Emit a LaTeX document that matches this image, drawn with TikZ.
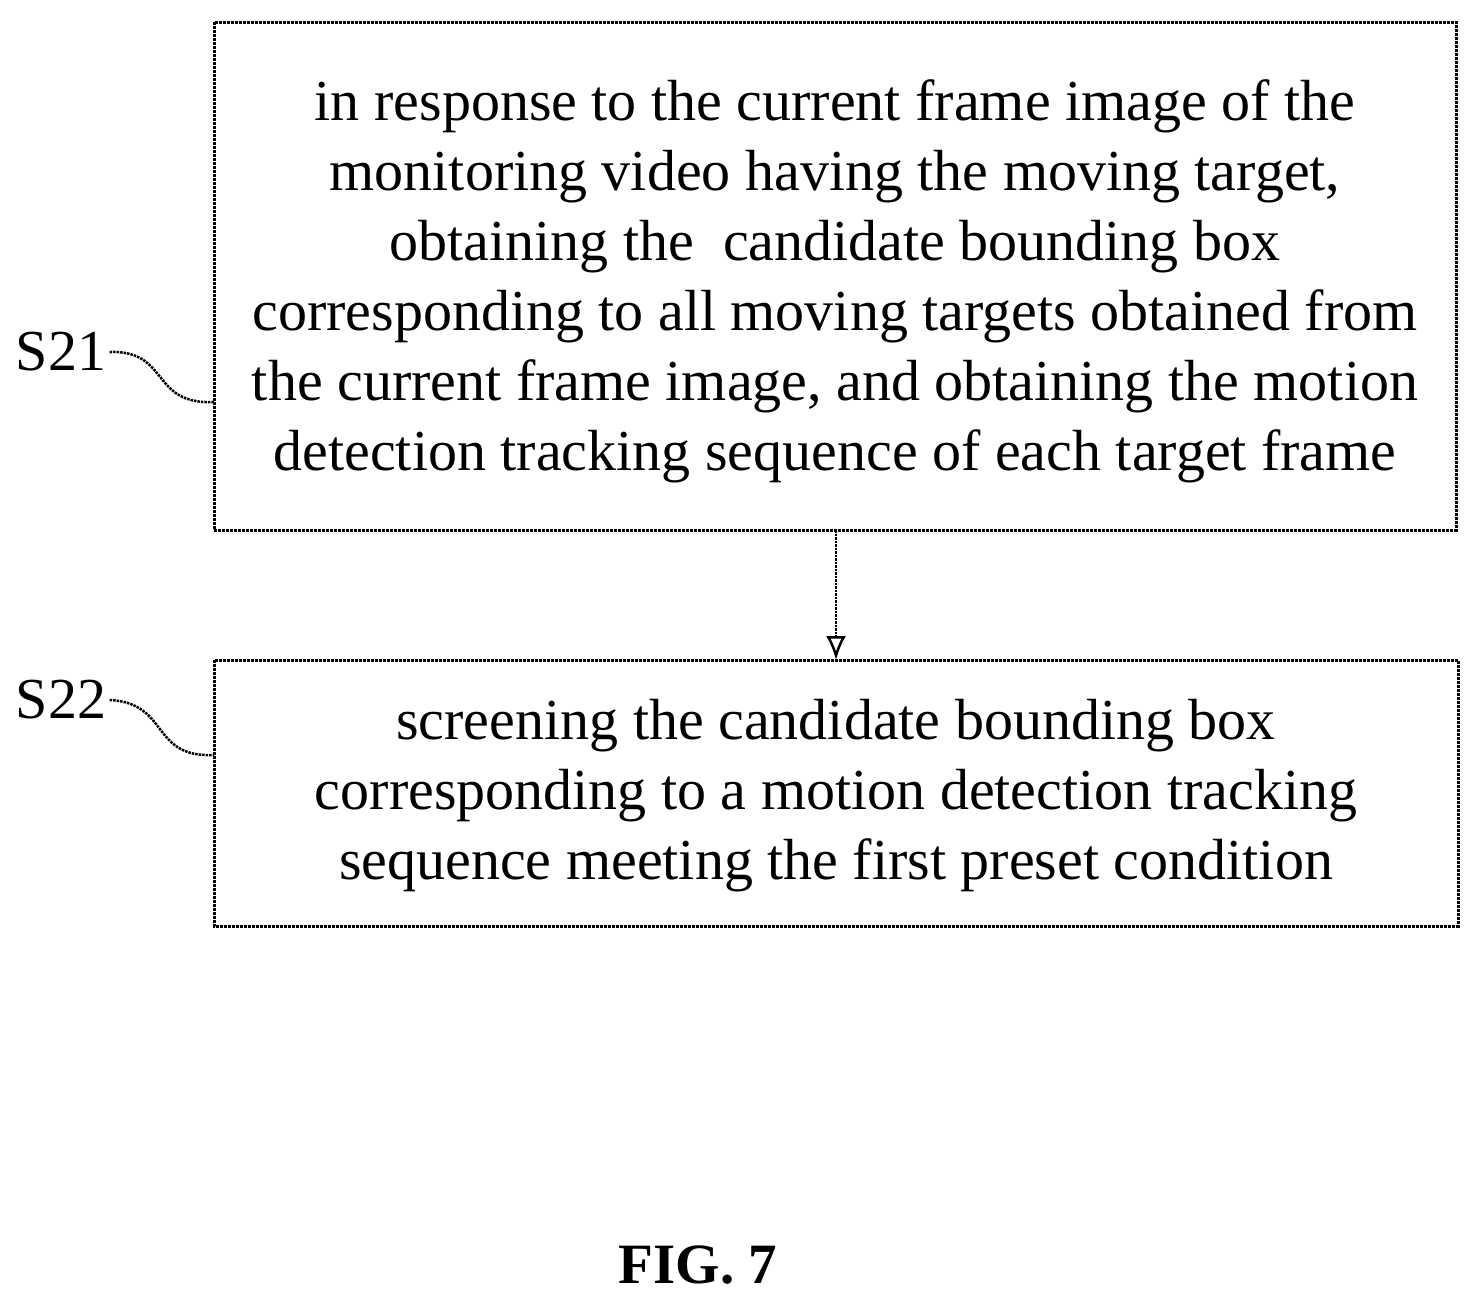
\documentclass[tikz,border=0pt]{standalone}
\usepackage{fontspec}
\usetikzlibrary{arrows.meta}
\setmainfont{Liberation Serif}
\begin{document}
\begin{tikzpicture}[x=1pt,y=-1pt,
  box/.style={draw,line width=3pt,densely dotted,inner sep=0pt},
  txt/.style={align=center,font=\fontsize{58}{70}\selectfont},
  lab/.style={font=\fontsize{58}{60}\selectfont},
  wig/.style={line width=2.5pt,densely dotted}]
\useasboundingbox (0,0) rectangle (1479,1304);
\draw[box] (214,22) rectangle (1456,530);
\node[txt] (t1) at (835,281) {in response to the current frame image of the\\monitoring video having the moving target,\\obtaining the\ \ candidate bounding box\\corresponding to all moving targets obtained from\\the current frame image, and obtaining the motion\\detection tracking sequence of each target frame};
\draw[box] (214,660) rectangle (1458,926);
\node[txt] (t2) at (836,796) {screening the candidate bounding box\\corresponding to a motion detection tracking\\sequence meeting the first preset condition};
\coordinate (a1) at (836,530);
\coordinate (a2) at (836,660);
\draw[line width=2.5pt,densely dotted,-{Latex[length=24pt,width=20pt,open]}] (a1) -- (a2);
\node[lab] (s21) at (61,352) {S21};
\node[lab] (s22) at (61,700) {S22};
\coordinate (c1) at (214,402);
\coordinate (c2) at (214,755);
\draw[wig] (s21.east) .. controls (170,350) and (150,405) .. (c1);
\draw[wig] (s22.east) .. controls (170,703) and (150,758) .. (c2);
\node[font=\fontsize{57}{60}\selectfont\bfseries] (fig) at (698,1265) {FIG. 7};
\end{tikzpicture}
\end{document}
